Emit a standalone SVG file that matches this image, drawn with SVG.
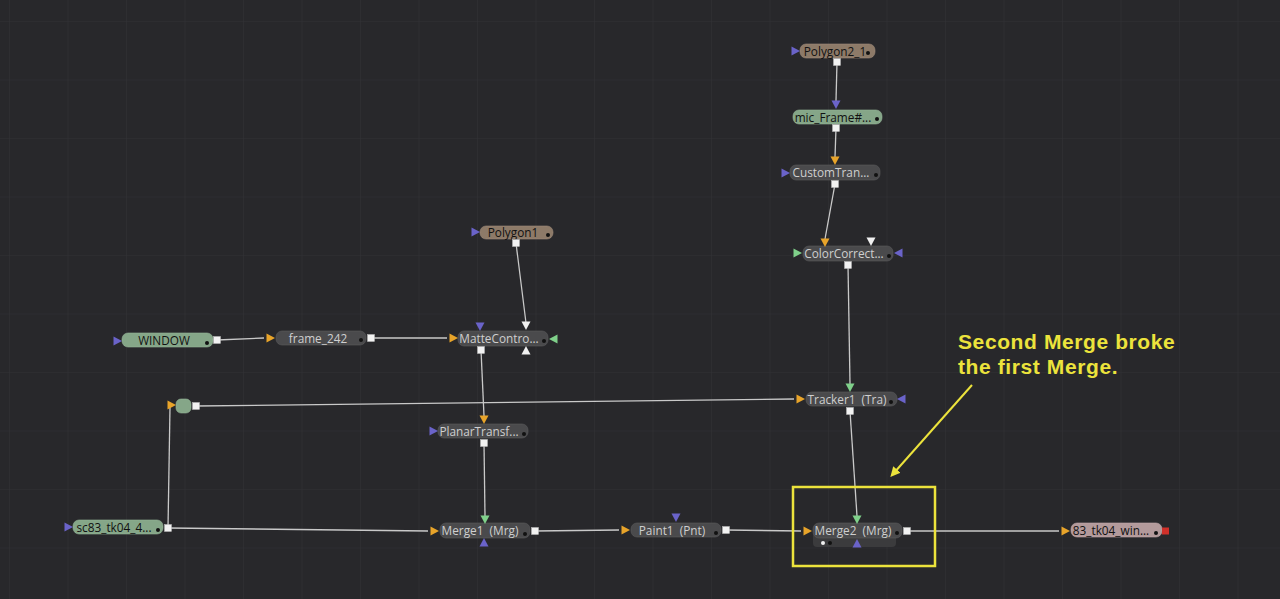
<svg xmlns="http://www.w3.org/2000/svg" xmlns:xlink="http://www.w3.org/1999/xlink" width="1280" height="599" viewBox="0 0 1280 599">
<defs>
<pattern id="grid" x="9" y="21" width="58.5" height="58.5" patternUnits="userSpaceOnUse">
<path d="M0 0H58.5M0 0V58.5" stroke="#323236" stroke-width="1" fill="none"/>
</pattern>
<path id="tR" d="M-4.5 -4.5L4 0L-4.5 4.5Z"/>
<path id="tL" d="M4.5 -4.5L-4 0L4.5 4.5Z"/>
<path id="tD" d="M-4.5 -4.5L4.5 -4.5L0 4Z"/>
<path id="tU" d="M-4.5 4.5L4.5 4.5L0 -4Z"/>
<marker id="yarrow" markerWidth="10" markerHeight="10" refX="6" refY="5" orient="auto" markerUnits="userSpaceOnUse" viewBox="0 0 10 10">
<path d="M0 0L10 5L0 10Z" fill="#ece33c"/>
</marker>
</defs>
<style>
.dark{fill:#4a4a4c;stroke:#5a5a5c;stroke-width:0.6}
.green{fill:#85a688;stroke:#95b698;stroke-width:0.6}
.tan{fill:#8d7a68;stroke:#9d8a78;stroke-width:0.6}
.pink{fill:#b39a9b;stroke:#c3aaab;stroke-width:0.6}
.lt{font-family:"Open Sans","Liberation Sans",sans-serif;font-size:11.8px;fill:#cfcfcf;text-anchor:middle;white-space:pre}
.dt{font-family:"Open Sans","Liberation Sans",sans-serif;font-size:11.8px;fill:#111;text-anchor:middle;white-space:pre}
.out{fill:#f2f2f2;stroke:#bbb;stroke-width:0.5}
.dot{fill:#111}
.o{fill:#e8a42a}
.b{fill:#6a63c9}
.g{fill:#7fd08a}
.w{fill:#f0f0f0}
.conn{stroke:#c9c9c9;stroke-width:1.3;fill:none}
.note{font-family:"Liberation Sans",Arial,sans-serif;font-size:21px;font-weight:bold;letter-spacing:0.6px;fill:#ece33c}
</style>
<rect width="1280" height="599" fill="#28282b"/>
<rect width="1280" height="599" fill="url(#grid)"/>

<g id="connectors">
<line class="conn" x1="837" y1="62" x2="836" y2="101"/>
<line class="conn" x1="836" y1="128" x2="835" y2="157"/>
<line class="conn" x1="835" y1="184" x2="825" y2="239"/>
<line class="conn" x1="848" y1="265" x2="850" y2="384"/>
<line class="conn" x1="516" y1="243" x2="526" y2="323"/>
<line class="conn" x1="217" y1="340" x2="264" y2="338"/>
<line class="conn" x1="371" y1="338" x2="447" y2="338"/>
<line class="conn" x1="481" y1="350" x2="484" y2="416"/>
<line class="conn" x1="484" y1="443" x2="485" y2="516"/>
<line class="conn" x1="168" y1="528" x2="428" y2="531"/>
<line class="conn" x1="168" y1="528" x2="170" y2="407"/>
<line class="conn" x1="196" y1="406" x2="794" y2="399"/>
<line class="conn" x1="535" y1="531" x2="619" y2="530"/>
<line class="conn" x1="726" y1="530" x2="801" y2="531"/>
<line class="conn" x1="850" y1="411" x2="857" y2="516"/>
<line class="conn" x1="907" y1="531" x2="1059" y2="531"/>
</g>

<g id="Polygon2_1">
<rect class="tan" x="800" y="44" width="75" height="14" rx="6"/>
<text class="dt" x="835" y="55.5">Polygon2_1</text>
<use href="#tR" class="b" x="796" y="51"/>
<circle class="dot" cx="868" cy="53" r="2"/>
<rect class="out" x="833.5" y="58.5" width="7" height="7"/>
</g>

<g id="mic_Frame">
<rect class="green" x="793" y="110" width="89" height="14" rx="6"/>
<text class="dt" x="833" y="121.5">mic_Frame#...</text>
<use href="#tD" class="b" x="836" y="105"/>
<circle class="dot" cx="877" cy="119" r="2"/>
<rect class="out" x="832.5" y="124.5" width="7" height="7"/>
</g>

<g id="CustomTran">
<rect class="dark" x="790" y="165" width="90" height="15" rx="6"/>
<text class="lt" x="831" y="176.5">CustomTran...</text>
<use href="#tD" class="o" x="835" y="161"/>
<use href="#tR" class="b" x="786" y="173"/>
<circle class="dot" cx="876" cy="175" r="2"/>
<rect class="out" x="831.5" y="180.5" width="7" height="7"/>
</g>

<g id="ColorCorrect">
<rect class="dark" x="803" y="246" width="90" height="15" rx="6"/>
<text class="lt" x="844" y="257.5">ColorCorrect...</text>
<use href="#tD" class="o" x="825" y="243"/>
<use href="#tD" class="w" x="871" y="242"/>
<use href="#tR" class="g" x="798" y="253"/>
<use href="#tL" class="b" x="898" y="253"/>
<circle class="dot" cx="889" cy="256" r="2"/>
<rect class="out" x="844.5" y="261.5" width="7" height="7"/>
</g>

<g id="Polygon1">
<rect class="tan" x="480" y="226" width="73" height="13" rx="6"/>
<text class="dt" x="513" y="236.5">Polygon1</text>
<use href="#tR" class="b" x="476" y="232"/>
<circle class="dot" cx="548" cy="235" r="2"/>
<rect class="out" x="512.5" y="239.5" width="7" height="7"/>
</g>

<g id="WINDOW">
<rect class="green" x="122" y="333" width="91" height="14" rx="6"/>
<text class="dt" x="164" y="344.5">WINDOW</text>
<use href="#tR" class="b" x="118" y="341"/>
<circle class="dot" cx="207" cy="343" r="2"/>
<rect class="out" x="213.5" y="336.5" width="7" height="7"/>
</g>

<g id="frame_242">
<rect class="dark" x="276" y="331" width="90" height="14" rx="6"/>
<text class="lt" x="318" y="342.5">frame_242</text>
<use href="#tR" class="o" x="271" y="338"/>
<circle class="dot" cx="361" cy="340" r="2"/>
<rect class="out" x="367.5" y="334.5" width="7" height="7"/>
</g>

<g id="MatteControl">
<rect class="dark" x="458" y="331" width="90" height="15" rx="6"/>
<text class="lt" x="499" y="342.5">MatteContro...</text>
<use href="#tR" class="o" x="454" y="338"/>
<use href="#tD" class="b" x="480" y="327"/>
<use href="#tD" class="w" x="526" y="326"/>
<use href="#tL" class="g" x="553" y="339"/>
<use href="#tU" class="w" x="526" y="350"/>
<circle class="dot" cx="544" cy="341" r="2"/>
<rect class="out" x="477.5" y="346.5" width="7" height="7"/>
</g>

<g id="Router">
<rect class="green" x="176" y="399" width="15" height="14" rx="5"/>
<use href="#tR" class="o" x="172" y="405"/>
<rect class="out" x="192.5" y="402.5" width="7" height="7"/>
</g>

<g id="Tracker1">
<rect class="dark" x="806" y="392" width="91" height="14" rx="6"/>
<text class="lt" x="847" y="403.5">Tracker1  (Tra)</text>
<use href="#tD" class="g" x="850" y="388"/>
<use href="#tR" class="o" x="801" y="399"/>
<use href="#tL" class="b" x="901" y="399"/>
<circle class="dot" cx="891" cy="402" r="2"/>
<rect class="out" x="846.5" y="407.5" width="7" height="7"/>
</g>

<g id="PlanarTransf">
<rect class="dark" x="438" y="424" width="90" height="14" rx="6"/>
<text class="lt" x="479" y="435.5">PlanarTransf...</text>
<use href="#tD" class="o" x="484" y="420"/>
<use href="#tR" class="b" x="434" y="431"/>
<circle class="dot" cx="524" cy="434" r="2"/>
<rect class="out" x="480.5" y="439.5" width="7" height="7"/>
</g>

<g id="sc83_tk04">
<rect class="green" x="73" y="520" width="90" height="14" rx="6"/>
<text class="dt" x="114" y="531.5">sc83_tk04_4...</text>
<use href="#tR" class="b" x="69" y="527"/>
<circle class="dot" cx="158" cy="530" r="2"/>
<rect class="out" x="164.5" y="524.5" width="7" height="7"/>
</g>

<g id="Merge1">
<rect class="dark" x="440" y="523" width="90" height="15" rx="6"/>
<text class="lt" x="480" y="534.5">Merge1  (Mrg)</text>
<use href="#tR" class="o" x="435" y="531"/>
<use href="#tD" class="g" x="485" y="520"/>
<use href="#tU" class="b" x="484" y="542"/>
<circle class="dot" cx="525" cy="534" r="2"/>
<rect class="out" x="531.5" y="527.5" width="7" height="7"/>
</g>

<g id="Paint1">
<rect class="dark" x="631" y="523" width="90" height="14" rx="6"/>
<text class="lt" x="672" y="534.5">Paint1  (Pnt)</text>
<use href="#tR" class="o" x="626" y="530"/>
<use href="#tD" class="b" x="676" y="518"/>
<circle class="dot" cx="716" cy="533" r="2"/>
<rect class="out" x="722.5" y="526.5" width="7" height="7"/>
</g>

<g id="Merge2">
<rect x="813" y="532" width="83" height="15" rx="4" fill="#3b3b3d"/>
<rect class="dark" x="813" y="523" width="89" height="15" rx="6"/>
<text class="lt" x="853" y="534.5">Merge2  (Mrg)</text>
<use href="#tR" class="o" x="808" y="531"/>
<use href="#tD" class="g" x="857" y="520"/>
<use href="#tU" class="b" x="857" y="543"/>
<circle cx="823" cy="543" r="2" fill="#f0f0f0"/>
<circle class="dot" cx="830" cy="543" r="2"/>
<circle class="dot" cx="897" cy="533" r="2"/>
<rect class="out" x="903.5" y="527.5" width="7" height="7"/>
</g>

<g id="Saver">
<rect class="pink" x="1071" y="523" width="91" height="14" rx="6"/>
<text class="dt" x="1111" y="534.5">83_tk04_win...</text>
<use href="#tR" class="o" x="1066" y="531"/>
<circle class="dot" cx="1156" cy="533" r="2"/>
<rect x="1162" y="527.5" width="7" height="7" fill="#d0302a"/>
</g>

<g id="annotation">
<rect x="793" y="487" width="142" height="79" fill="none" stroke="#ece33c" stroke-width="2.5"/>
<text class="note" x="958" y="349">Second Merge broke</text>
<text class="note" x="958" y="374">the first Merge.</text>
<line x1="972" y1="385" x2="893" y2="474" stroke="#ece33c" stroke-width="2" marker-end="url(#yarrow)"/>
</g>
</svg>
